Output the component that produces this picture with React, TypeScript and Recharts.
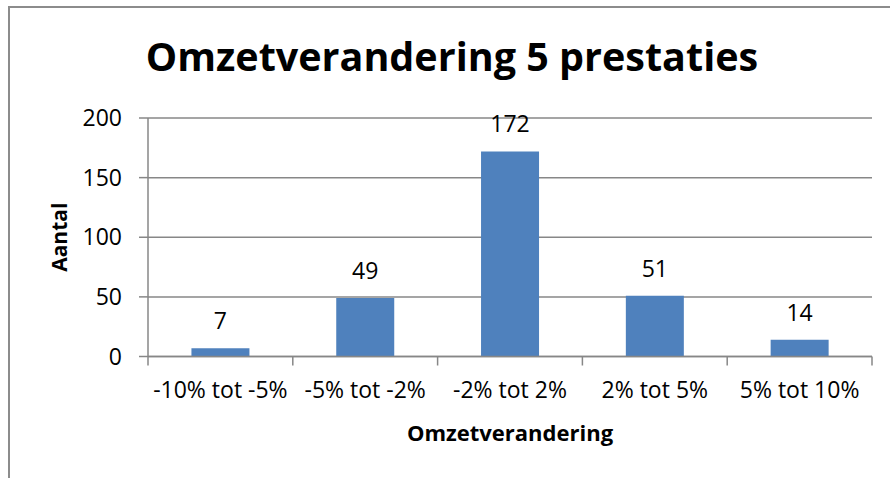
import { BarChart, Bar, XAxis, YAxis, CartesianGrid, LabelList, Label } from 'recharts'

const categories = ['-10% tot -5%', '-5% tot -2%', '-2% tot 2%', '2% tot 5%', '5% tot 10%']
const counts = [7, 49, 172, 51, 14]
const yTicks = [0, 50, 100, 150, 200]

const data = categories.map((name, i) => ({ name, aantal: counts[i] }))

const FONT = "'Open Sans', 'Noto Sans', sans-serif"
const GRID = '#878787'

function CategoryTick(props: any) {
  const { x, y, payload, width, visibleTicksCount, index } = props
  const band = width / visibleTicksCount
  const isLast = index === visibleTicksCount - 1
  return (
    <g>
      <line x1={x - band / 2} x2={x - band / 2} y1={y} y2={y + 9} stroke={GRID} strokeWidth={1.5} />
      {isLast && <line x1={x + band / 2} x2={x + band / 2} y1={y} y2={y + 9} stroke={GRID} strokeWidth={1.5} />}
      <text x={x} y={y + 41} textAnchor="middle" fill="#000" fontSize={23} fontFamily={FONT}>
        {payload.value}
      </text>
    </g>
  )
}

function AxisTitleY({ viewBox }: any) {
  const cx = viewBox.x + 49
  const cy = viewBox.y + viewBox.height / 2
  return (
    <text x={cx} y={cy} transform={`rotate(-90 ${cx} ${cy})`} textAnchor="middle" dominantBaseline="central"
      fontSize={21} fontWeight="bold" fontFamily={FONT} fill="#000">
      Aantal
    </text>
  )
}

export default function App() {
  return (
    <div style={{ position: 'absolute', left: 0, top: 0, width: 890, height: 478, overflow: 'hidden', background: '#fff' }}>
      <div style={{ position: 'absolute', left: 8, top: 6, width: 882, height: 472, borderLeft: '2px solid #8c8c8c', borderTop: '2px solid #8c8c8c' }}>
        <BarChart width={880} height={470} data={data} margin={{ top: 110, right: 18, left: 0, bottom: 0 }} barCategoryGap="30%">
          <CartesianGrid vertical={false} stroke={GRID} strokeWidth={1.5} />
          <XAxis dataKey="name" height={121.5} tickSize={0} tickMargin={0} tickLine={false} axisLine={{ stroke: GRID, strokeWidth: 1.5 }}
            tick={<CategoryTick />} interval={0}>
            <Label value="Omzetverandering" position="insideBottom" offset={37} fontSize={22} fontWeight="bold" fontFamily={FONT} fill="#000" />
          </XAxis>
          <YAxis width={138} domain={[0, 200]} ticks={yTicks} tickSize={9} tickMargin={17} interval={0}
            tick={{ fill: '#000', fontSize: 23, fontFamily: FONT }}
            tickLine={{ stroke: GRID, strokeWidth: 1.5 }} axisLine={{ stroke: GRID, strokeWidth: 1.5 }}>
            <Label content={<AxisTitleY />} />
          </YAxis>
          <Bar dataKey="aantal" fill="#4F81BD" isAnimationActive={false}>
            <LabelList dataKey="aantal" position="top" offset={19} fill="#000" fontSize={23} fontFamily={FONT} />
          </Bar>
        </BarChart>
      </div>
      <svg width={890} height={100} style={{ position: 'absolute', left: 0, top: 0, pointerEvents: 'none' }}>
        <text x={452} y={71} textAnchor="middle" fontSize={39.5} fontWeight="bold" fontFamily={FONT} fill="#000">
          Omzetverandering 5 prestaties
        </text>
      </svg>
    </div>
  )
}
